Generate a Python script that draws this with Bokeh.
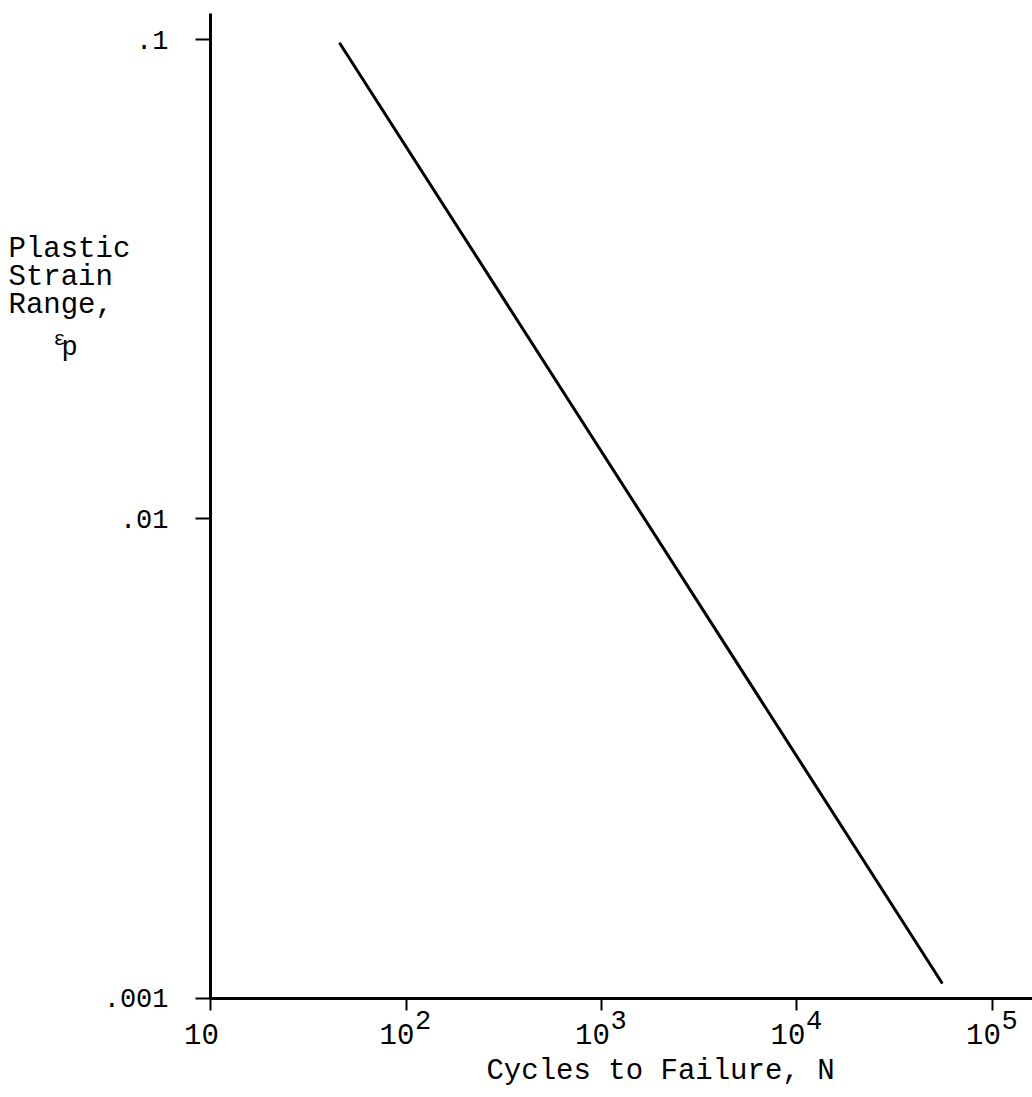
from bokeh.plotting import figure
from bokeh.models import Range1d, FixedTicker, Label
from bokeh.embed import file_html
from bokeh.resources import INLINE

# Data
cycles = [46, 55000]
strain = [0.098, 0.00108]
x_ticks = [10, 100, 1000, 10000, 100000]
x_tick_base = ["10", "10", "10", "10", "10"]
x_tick_exp = ["", "2", "3", "4", "5"]
y_ticks = [0.001, 0.01, 0.1]
y_tick_labels = [".001", ".01", ".1"]
x_label = "Cycles to Failure, N"
y_label_lines = ["Plastic", "Strain", "Range,"]

FONT = "Liberation Mono"

# axis extents (data units)
X_AXIS_MIN, X_AXIS_MAX = 10, 160200
Y_AXIS_MIN, Y_AXIS_MAX = 0.001, 0.1133

p = figure(width=1032, height=1097, x_axis_type="log", y_axis_type="log",
           x_range=Range1d(0.8429, 160200), y_range=Range1d(0.0006216, 0.1206),
           output_backend="svg", toolbar_location=None,
           min_border_left=0, min_border_right=0, min_border_top=0,
           min_border_bottom=0)
p.outline_line_color = None
p.xgrid.visible = False
p.ygrid.visible = False
p.background_fill_color = "white"
p.border_fill_color = "white"

p.line(cycles, strain, line_color="black", line_width=3, line_cap="round")

# y axis
ya = p.yaxis[0]
ya.fixed_location = X_AXIS_MIN
ya.bounds = (Y_AXIS_MIN, Y_AXIS_MAX)
ya.ticker = FixedTicker(ticks=y_ticks, minor_ticks=[])
ya.major_label_overrides = {t: l for t, l in zip(y_ticks, y_tick_labels)}
ya.major_label_text_font = FONT
ya.major_label_text_font_size = "27px"
ya.major_label_text_color = "black"
ya.major_label_standoff = 27
ya.major_tick_out = 15
ya.major_tick_in = 0
ya.minor_tick_out = 0
ya.minor_tick_in = 0
ya.axis_line_width = 3
ya.major_tick_line_width = 2
ya.axis_line_color = "black"
ya.major_tick_line_color = "black"

# x axis
xa = p.xaxis[0]
xa.fixed_location = Y_AXIS_MIN
xa.bounds = (X_AXIS_MIN, X_AXIS_MAX)
xa.ticker = FixedTicker(ticks=x_ticks, minor_ticks=[])
xa.major_label_overrides = {t: "" for t in x_ticks}
xa.major_label_text_font_size = "1px"
xa.major_tick_out = 12
xa.major_tick_in = 0
xa.minor_tick_out = 0
xa.minor_tick_in = 0
xa.axis_line_width = 3
xa.major_tick_line_width = 2
xa.axis_line_color = "black"
xa.major_tick_line_color = "black"

# x tick labels with superscript exponents
for t, b, e in zip(x_ticks, x_tick_base, x_tick_exp):
    p.add_layout(Label(x=t, y=Y_AXIS_MIN, x_offset=-9, y_offset=-36, text=b,
                       text_font=FONT, text_font_size="29px", text_align="center",
                       text_baseline="alphabetic", text_color="black"))
    if e:
        p.add_layout(Label(x=t, y=Y_AXIS_MIN, x_offset=9, y_offset=-22, text=e,
                           text_font=FONT, text_font_size="27px", text_align="left",
                           text_baseline="alphabetic", text_color="black"))

# x axis title
p.add_layout(Label(x=258, y=Y_AXIS_MIN, y_offset=-73, text=x_label,
                   text_font=FONT, text_font_size="29px", text_align="left",
                   text_baseline="alphabetic", text_color="black"))

# y axis title (horizontal, stacked)
for i, line in enumerate(y_label_lines):
    p.add_layout(Label(x=X_AXIS_MIN, y=Y_AXIS_MAX, x_offset=-202, y_offset=-(236 + 28 * i),
                       text=line, text_font=FONT, text_font_size="29px", text_align="left",
                       text_baseline="alphabetic", text_color="black"))
p.add_layout(Label(x=X_AXIS_MIN, y=Y_AXIS_MAX, x_offset=-157, y_offset=-326, text="ε",
                   text_font=FONT, text_font_size="20px", text_align="left",
                   text_baseline="alphabetic", text_color="black"))
p.add_layout(Label(x=X_AXIS_MIN, y=Y_AXIS_MAX, x_offset=-149, y_offset=-334, text="p",
                   text_font=FONT, text_font_size="27px", text_align="left",
                   text_baseline="alphabetic", text_color="black"))

open("out.html", "w").write(file_html(p, INLINE))
